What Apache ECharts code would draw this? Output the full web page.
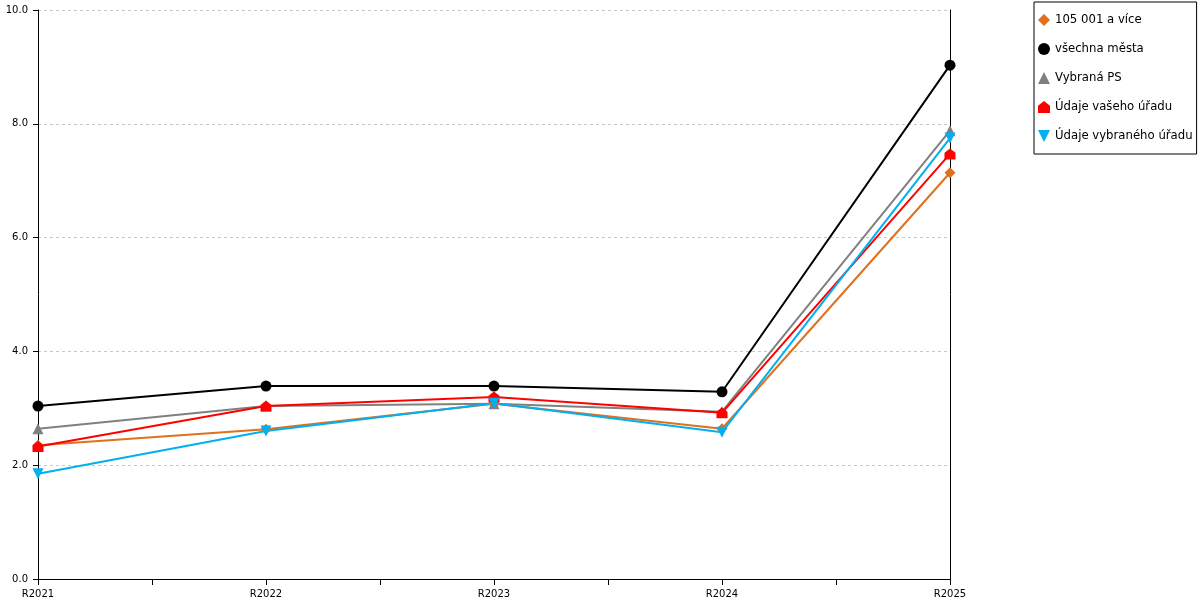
<!DOCTYPE html>
<html>
<head>
<meta charset="utf-8">
<script src="https://cdn.jsdelivr.net/npm/echarts@6/dist/echarts.min.js"></script>
<style>
  html, body { margin: 0; padding: 0; background: #fff; }
  #chart { width: 1200px; height: 600px; }
</style>
</head>
<body>
<div id="chart"></div>
<script>
// Years on the x axis, one value per year for each series.
const years = ['R2021', 'R2022', 'R2023', 'R2024', 'R2025'];

const names = ['105 001 a více', 'všechna města', 'Vybraná PS', 'Údaje vašeho úřadu', 'Údaje vybraného úřadu'];
const bigTowns   = [2.35, 2.63, 3.08, 2.64, 7.14];
const allTowns   = [3.04, 3.39, 3.39, 3.29, 9.03];
const chosenPS   = [2.64, 3.04, 3.08, 2.94, 7.88];
const yourOffice = [2.33, 3.04, 3.20, 2.92, 7.47];
const otherOffice = [1.85, 2.60, 3.09, 2.58, 7.75];

const colors = ['#e0711c', '#000000', '#808080', '#ff0000', '#00b0f0'];
const house = 'path://M0,4 L5,0 L10,4 L10,10 L0,10 Z';
const symbols = ['diamond', 'circle', 'triangle', house, 'path://M0,0 L10,0 L5,10 Z'];
const values = [bigTowns, allTowns, chosenPS, yourOffice, otherOffice];

const chart = echarts.init(document.getElementById('chart'));
const font = 'DejaVu Sans';

// x is a value axis over year index so ticks can sit between years too
const series = names.map((n, i) => ({
  name: n, type: 'line', symbol: symbols[i], symbolSize: 11,
  showAllSymbol: true,
  lineStyle: { color: colors[i], width: 2 },
  itemStyle: { color: colors[i] },
  emphasis: { disabled: true },
  data: values[i].map((v, k) => [k, v]),
}));

chart.setOption({
  animation: false,
  textStyle: { fontFamily: font },
  grid: { left: 38, right: 250, top: 10, bottom: 21 },
  legend: {
    orient: 'vertical', left: 1034, top: 2,
    borderColor: '#000', borderWidth: 1, borderRadius: 0,
    padding: [12, 4, 12, 4],
    itemWidth: 12, itemHeight: 12, itemGap: 17,
    textStyle: { fontFamily: font, fontSize: 11.7, color: '#000' },
    data: names.map((n, i) => ({ name: n, icon: symbols[i] })),
    selectedMode: false,
  },
  xAxis: {
    type: 'value', min: 0, max: years.length - 1, interval: 0.5,
    axisLine: { lineStyle: { color: '#000', width: 1 } },
    axisTick: { show: true, length: 6, lineStyle: { color: '#000' } },
    axisLabel: {
      color: '#000', fontSize: 10, margin: 10, fontFamily: font,
      formatter: v => Number.isInteger(v) ? years[v] : '',
    },
    splitLine: { show: false },
  },
  yAxis: [{
    type: 'value', min: 0, max: 10, interval: 2,
    axisLine: { show: true, lineStyle: { color: '#000' } },
    axisTick: { show: true, length: 5, lineStyle: { color: '#000' } },
    axisLabel: { color: '#000', fontSize: 10, margin: 10, fontFamily: font, formatter: v => v.toFixed(1) },
    splitLine: { show: true, lineStyle: { color: '#c8c8c8', type: [3, 3] } },
  }, {
    type: 'value', min: 0, max: 10, position: 'right',
    axisLine: { show: true, lineStyle: { color: '#000' } },
    axisTick: { show: false }, axisLabel: { show: false }, splitLine: { show: false },
  }],
  series,
});
</script>
</body>
</html>
